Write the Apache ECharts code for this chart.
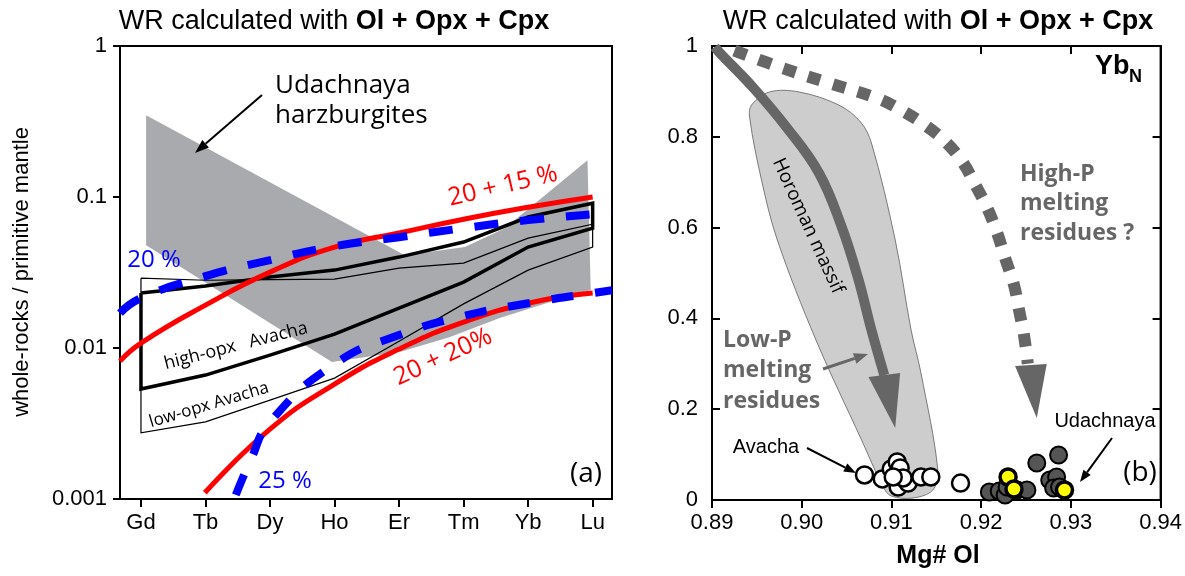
<!DOCTYPE html>
<html>
<head>
<meta charset="utf-8">
<script src="https://cdn.jsdelivr.net/npm/echarts@6/dist/echarts.min.js"></script>
<style>
html,body{margin:0;padding:0;background:#fff;}
#chart{width:1185px;height:576px;}
</style>
</head>
<body>
<div id="chart"></div>
<script>
// ---------- DATA ----------
const categories = ['Gd','Tb','Dy','Ho','Er','Tm','Yb','Lu'];
const categoryPositions = [0,1,2,3,4,5,6,7];
const yTickLabelsA = ['0.001','0.01','0.1','1'];

// Udachnaya harzburgite field (panel a): [REE position, normalized value]
const udachnayaField = [[0.08,0.348],[4.09,0.0412],[5.02,0.0466],[5.64,0.0622],[6.92,0.175],[6.97,0.0242],[6.33,0.0201],[5.56,0.0158],[4.78,0.0118],[4.01,0.0094],[2.96,0.00807],[0.08,0.048]];

// Avacha envelopes (panel a), values at Gd..Lu
const highOpxUpper = [0.0231,0.0257,0.0295,0.0328,0.040,0.0503,0.0737,0.091];
const highOpxLower = [0.00535,0.00662,0.00898,0.01236,0.01837,0.0273,0.0466,0.0622];
const lowOpxUpper  = [0.0290,0.0281,0.0284,0.0286,0.0338,0.0365,0.0534,0.0661];
const lowOpxLower  = [0.00274,0.00324,0.00452,0.00632,0.0111,0.0196,0.0328,0.0466];

// Melting model curves (panel a)
const red15X = [-0.325,0,1,2,3,4,5,6,7];
const red15Y = [0.00819,0.01078,0.01923,0.0318,0.0466,0.0577,0.0713,0.0855,0.100];
const red20X = [0.99,2,3,4,5,6,7];
const red20Y = [0.00110,0.00290,0.00577,0.00984,0.01483,0.0198,0.0231];
const blue20X = [-0.325,0,1,2,3,4,5,6,7,7.3];
const blue20Y = [0.01702,0.0214,0.0299,0.0382,0.0472,0.0542,0.0622,0.0703,0.0769,0.0793];
const blue25X = [1.47,1.7,2,3,4,5,6,7,7.3];
const blue25Y = [0.001064,0.00181,0.00323,0.00782,0.01217,0.01626,0.0198,0.0231,0.0241];

// Panel b: Mg# Ol vs Yb_N
const horomanField = [[0.89419,0.8436],[0.89552,0.7048],[0.89728,0.5727],[0.90159,0.3524],[0.90667,0.1322],[0.90909,0.0286],[0.90998,0.0088],[0.91241,0.0044],[0.91461,0.022],[0.91517,0.0661],[0.91329,0.2797],[0.91219,0.3744],[0.91042,0.5727],[0.90777,0.7863],[0.90656,0.8326],[0.90413,0.8700],[0.89971,0.8987],[0.8964,0.8987],[0.89441,0.8700]];
const horomanTrend = [[0.8903,0.998],[0.89088,0.9846],[0.89453,0.9097],[0.89828,0.8216],[0.90192,0.7203],[0.90446,0.6013],[0.90634,0.4846],[0.90777,0.3744],[0.9092,0.275]];
const horomanHead = [[0.90744,0.2709],[0.91097,0.2797],[0.91042,0.1586]];
const highPTrend = [[0.89250,0.990],[0.89784,0.9515],[0.90302,0.9185],[0.90832,0.8855],[0.91108,0.8590],[0.91373,0.8260],[0.91605,0.7885],[0.91792,0.7445],[0.91936,0.6938],[0.92068,0.6432],[0.92179,0.5881],[0.92267,0.5330],[0.92366,0.4736],[0.92422,0.4185],[0.92477,0.3634],[0.9252,0.300]];
const highPHead = [[0.92378,0.2952],[0.92731,0.2996],[0.9262,0.1806]];

const avachaPts = [[0.90700,0.0551],[0.90898,0.0463],[0.90998,0.0683],[0.91064,0.0837],[0.91097,0.0705],[0.91075,0.0286],[0.91185,0.0374],[0.9113,0.0485],[0.91329,0.0507],[0.91439,0.0507],[0.91770,0.0374],[0.9102,0.0507]];
const udachnayaPts = [[0.92091,0.0176],[0.92201,0.0198],[0.92267,0.011],[0.924,0.022],[0.9251,0.022],[0.9262,0.0815],[0.92863,0.0991],[0.92764,0.0441],[0.92841,0.0507],[0.92808,0.0264],[0.92874,0.0286],[0.92289,0.0286]];
const udachnayaYellow = [[0.9230,0.0507],[0.92366,0.0242],[0.92929,0.022]];

// ---------- CHART ----------
const SANS = '"Liberation Sans", Arial, Helvetica, sans-serif';
const MYR = '"Open Sans", "Noto Sans", sans-serif';
const chart = echarts.init(document.getElementById('chart'), null, {renderer:'canvas'});

function pairs(xs, ys){ return xs.map((x,i)=>[x, ys[i]]); }
function envelope(up, lo){
  const a = up.map((v,i)=>[categoryPositions[i], v]);
  const b = lo.map((v,i)=>[categoryPositions[i], v]).reverse();
  return a.concat(b, [a[0]]);
}
function polySeries(pts, xi, yi, style, smooth){
  return {type:'custom', xAxisIndex:xi, yAxisIndex:yi, clip:true, silent:true, data:pts, encode:{x:0,y:1},
    renderItem:(params, api)=>{
      if (params.dataIndex !== 0) return null;
      return {type:'polygon', shape:{points:pts.map(p=>api.coord(p)), smooth:smooth||0}, style:style};
    }};
}
function lineSeries(data, xi, yi, color, width, type, smooth){
  return {type:'line', xAxisIndex:xi, yAxisIndex:yi, data:data, symbol:'none', smooth:smooth, silent:true,
    lineStyle:{color:color, width:width, type:type||'solid', cap:'butt', join:'miter'}, z:3};
}
function arrow(x1,y1,x2,y2,color,w,hl,hw){
  const a = Math.atan2(y2-y1, x2-x1);
  const bx = x2 - hl*Math.cos(a), by = y2 - hl*Math.sin(a);
  const px = -Math.sin(a)*hw/2, py = Math.cos(a)*hw/2;
  return [
    {type:'line', z:100, shape:{x1:x1,y1:y1,x2:bx,y2:by}, style:{stroke:color, lineWidth:w}},
    {type:'polygon', z:100, shape:{points:[[x2,y2],[bx+px,by+py],[bx-px,by-py]]}, style:{fill:color}}
  ];
}
function txt(text, x, y, opt){
  return {type:'text', z:100, x:x, y:y, rotation:opt.rot||0,
    style:{text:text, fill:opt.color||'#000', font:(opt.weight||'normal')+' '+opt.size+'px '+(opt.family||MYR),
      textAlign:opt.align||'center', textVerticalAlign:'middle'}};
}
const axisLineStyle = {color:'#000', width:2};
const labelStyle = {color:'#000', fontSize:22, fontFamily:SANS};

const titleRich = {
  a:{fontSize:27, fontFamily:SANS, color:'#000'},
  b:{fontSize:27, fontFamily:SANS, fontWeight:'bold', color:'#000'}
};

const graphics = [
  {type:'text', z:100, x:334, y:22, style:{text:'{a|WR calculated with }{b|Ol + Opx + Cpx}', rich:titleRich, textAlign:'center', textVerticalAlign:'middle'}},
  {type:'text', z:100, x:938, y:22, style:{text:'{a|WR calculated with }{b|Ol + Opx + Cpx}', rich:titleRich, textAlign:'center', textVerticalAlign:'middle'}},
  txt('whole-rocks / primitive mantle', 22, 272, {size:22, family:SANS, rot:Math.PI/2}),
  txt('Mg# Ol', 938, 556, {size:25, family:SANS, weight:'bold'}),
  // panel a annotations
  txt('Udachnaya', 275, 86, {size:26, align:'left'}),
  txt('harzburgites', 275, 116, {size:26, align:'left'}),
  txt('20 + 15 %', 503, 186, {size:25, color:'#ff0000', rot:0.23}),
  txt('20 %', 154, 260, {size:24, color:'#0000ff'}),
  txt('20 + 20%', 443, 357, {size:25, color:'#ff0000', rot:0.43}),
  txt('25 %', 285, 481, {size:24, color:'#0000ff'}),
  txt('high-opx   Avacha', 236, 346, {size:18, rot:0.25}),
  txt('low-opx Avacha', 209, 405, {size:17, rot:0.29}),
  txt('(a)', 586, 474, {size:28}),
  // panel b annotations
  txt('Yb', 1095, 67, {size:27, family:SANS, weight:'bold', align:'left'}),
  txt('N', 1129, 77, {size:18, family:SANS, weight:'bold', align:'left'}),
  txt('High-P', 1020, 174, {size:23, weight:'bold', color:'#666', align:'left'}),
  txt('melting', 1020, 203, {size:23, weight:'bold', color:'#666', align:'left'}),
  txt('residues ?', 1020, 233, {size:23, weight:'bold', color:'#666', align:'left'}),
  txt('Low-P', 723, 340, {size:23, weight:'bold', color:'#666', align:'left'}),
  txt('melting', 723, 370, {size:23, weight:'bold', color:'#666', align:'left'}),
  txt('residues', 723, 401, {size:23, weight:'bold', color:'#666', align:'left'}),
  txt('Horoman massif', 808, 226, {size:19, rot:-1.141}),
  txt('Avacha', 766, 447, {size:20, family:SANS}),
  txt('Udachnaya', 1105, 421, {size:20, family:SANS}),
  txt('(b)', 1140, 473, {size:28})
].concat(
  arrow(262,95,195,153,'#000',2,14,10),
  arrow(823,369,868,354,'#666',3,14,11),
  arrow(807,448,856,473,'#000',2,12,9),
  arrow(1112,438,1080,482,'#000',2,12,9)
);

const option = {
  animation:false,
  backgroundColor:'#fff',
  grid:[
    {left:120, top:46, width:492, height:453, show:true, borderColor:'#000', borderWidth:2, backgroundColor:'transparent'},
    {left:712, top:46, width:453, height:454, show:true, borderColor:'#000', borderWidth:2, backgroundColor:'transparent'}
  ],
  xAxis:[
    {gridIndex:0, type:'value', min:-0.325, max:7.3,
      axisLine:{show:true, onZero:false, lineStyle:axisLineStyle},
      axisTick:{show:true, customValues:categoryPositions, length:8, lineStyle:axisLineStyle},
      axisLabel:Object.assign({customValues:categoryPositions, margin:13, formatter:v=>categories[Math.round(v)]}, labelStyle),
      splitLine:{show:false}},
    {gridIndex:1, type:'value', min:0.89, max:0.94, interval:0.01,
      axisLine:{show:true, onZero:false, lineStyle:axisLineStyle},
      axisTick:{show:true, length:8, lineStyle:axisLineStyle},
      axisLabel:Object.assign({margin:12, formatter:v=>v.toFixed(2)}, labelStyle),
      splitLine:{show:false}},
    {gridIndex:1, type:'value', position:'top', min:0.89, max:0.94, interval:0.01,
      axisLine:{show:true, onZero:false, lineStyle:axisLineStyle},
      axisTick:{show:true, inside:true, length:8, lineStyle:axisLineStyle},
      axisLabel:{show:false}, splitLine:{show:false}}
  ],
  yAxis:[
    {gridIndex:0, type:'log', logBase:10, min:0.001, max:1,
      axisLine:{show:true, onZero:false, lineStyle:axisLineStyle},
      axisTick:{show:true, length:7, lineStyle:axisLineStyle},
      minorTick:{show:false},
      axisLabel:Object.assign({margin:13, formatter:v=>yTickLabelsA[Math.round(Math.log10(v))+3]}, labelStyle),
      splitLine:{show:false}},
    {gridIndex:1, type:'value', min:0, max:1, interval:0.2,
      axisLine:{show:true, onZero:false, lineStyle:axisLineStyle},
      axisTick:{show:true, inside:true, length:8, lineStyle:axisLineStyle},
      axisLabel:Object.assign({margin:14, formatter:v=>(v===0?'0':(v===1?'1':v.toFixed(1)))}, labelStyle),
      splitLine:{show:false}},
    {gridIndex:1, type:'value', position:'right', min:0, max:1, interval:0.2,
      axisLine:{show:true, onZero:false, lineStyle:axisLineStyle},
      axisTick:{show:true, inside:true, length:8, lineStyle:axisLineStyle},
      axisLabel:{show:false}, splitLine:{show:false}}
  ],
  series:[
    // panel a
    polySeries(udachnayaField, 0, 0, {fill:'#a9aaad'}),
    lineSeries(envelope(lowOpxUpper, lowOpxLower), 0, 0, '#000', 1.2, 'solid', false),
    lineSeries(envelope(highOpxUpper, highOpxLower), 0, 0, '#000', 3.5, 'solid', false),
    lineSeries(pairs(red15X, red15Y), 0, 0, '#ff0000', 5, 'solid', 0.5),
    lineSeries(pairs(red20X, red20Y), 0, 0, '#ff0000', 5, 'solid', 0.5),
    lineSeries(pairs(blue20X, blue20Y), 0, 0, '#0000ff', 8, [24,22], 0.5),
    lineSeries(pairs(blue25X, blue25Y), 0, 0, '#0000ff', 8, [22,22], 0.5),
    // panel b
    polySeries(horomanField, 1, 1, {fill:'#cdcdcd', stroke:'#7a7a7a', lineWidth:1}, 0.35),
    lineSeries(horomanTrend, 1, 1, '#666666', 10, 'solid', 0.4),
    polySeries(horomanHead, 1, 1, {fill:'#666666'}),
    lineSeries(highPTrend, 1, 1, '#666666', 12, [13,13], 0.4),
    polySeries(highPHead, 1, 1, {fill:'#666666'}),
    {type:'scatter', xAxisIndex:1, yAxisIndex:1, data:avachaPts, symbol:'circle', symbolSize:17, silent:true, z:5,
      itemStyle:{color:'#fff', borderColor:'#000', borderWidth:2.5, opacity:1}},
    {type:'scatter', xAxisIndex:1, yAxisIndex:1, data:udachnayaPts, symbol:'circle', symbolSize:17, silent:true, z:5,
      itemStyle:{color:'#555555', borderColor:'#000', borderWidth:2, opacity:1}},
    {type:'scatter', xAxisIndex:1, yAxisIndex:1, data:udachnayaYellow, symbol:'circle', symbolSize:16, silent:true, z:6,
      itemStyle:{color:'#ffff00', borderColor:'#000', borderWidth:3.5, opacity:1}}
  ],
  graphic:graphics
};
chart.setOption(option);
</script>
</body>
</html>
